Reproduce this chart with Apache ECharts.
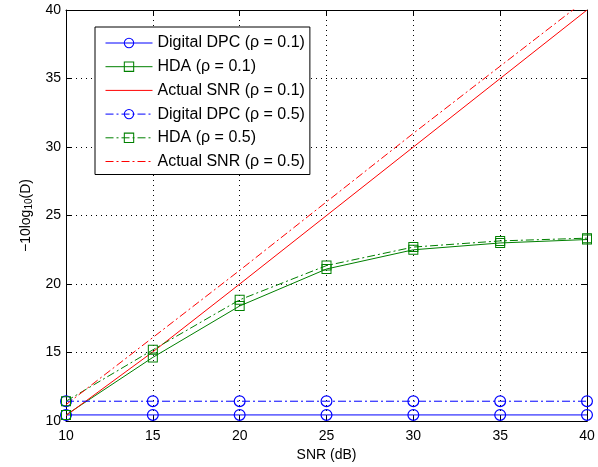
<!DOCTYPE html>
<html>
<head>
<meta charset="utf-8">
<script src="https://cdn.jsdelivr.net/npm/echarts@6/dist/echarts.min.js"></script>
<style>
html,body{margin:0;padding:0;background:#fff;}
#c{width:598px;height:467px;}
</style>
</head>
<body>
<div id="c"></div>
<script>
const snr = [10, 15, 20, 25, 30, 35, 40];
const dpc01 = [10.45, 10.45, 10.45, 10.45, 10.45, 10.45, 10.45];
const hda01 = [10.45, 14.65, 18.4, 21.1, 22.5, 23.0, 23.25];
const actual01 = [10.4, 15.05, 20.0, 25.0, 30.0, 35.0, 40.0];
const dpc05 = [11.45, 11.45, 11.45, 11.45, 11.45, 11.45, 11.45];
const hda05 = [11.45, 15.2, 18.85, 21.35, 22.7, 23.15, 23.35];
const actual05 = [11.2, 16.1, 21.0, 26.0, 31.0, 35.9, 40.8];
const names = ['Digital DPC (ρ = 0.1)', 'HDA (ρ = 0.1)', 'Actual SNR (ρ = 0.1)',
               'Digital DPC (ρ = 0.5)', 'HDA (ρ = 0.5)', 'Actual SNR (ρ = 0.5)'];
const xTicks = [10, 15, 20, 25, 30, 35, 40];
const yTicks = [10, 15, 20, 25, 30, 35, 40];

const BLUE = '#0000ff', GREEN = '#008000', RED = '#ff0000';
const FONT = 'Liberation Sans, Arial, sans-serif';
const RING = 'path://M10,0A10,10,0,1,1,10,20A10,10,0,1,1,10,0ZM10,2A8,8,0,1,0,10,18A8,8,0,1,0,10,2Z';
const SQRING = 'path://M0,0H20V20H0ZM2,2V18H18V2Z';

function pairs(ys){ return snr.map((x,i)=>[x, ys[i]]); }
function mk(name, ys, color, symbol, size, dashed, show){
  return {
    name, type:'line', data: pairs(ys),
    symbol, symbolSize: size, showSymbol: show,
    lineStyle:{color, width:1, type: dashed ? [8, 3, 2, 3] : 'solid'},
    itemStyle:{color, borderWidth:0},
    emphasis:{disabled:true}, animation:false, z: 3
  };
}
const legendColors = [BLUE, GREEN, RED, BLUE, GREEN, RED];
const legendData = names.map((n, i) => {
  const item = {name: n, lineStyle: {width: 1, color: legendColors[i], type: i >= 3 ? [8, 3, 2, 3] : 'solid'}};
  if (i === 2 || i === 5) item.itemStyle = {opacity: 0};
  return item;
});

const chart = echarts.init(document.getElementById('c'));
chart.setOption({
  backgroundColor:'#fff',
  animation:false,
  textStyle:{fontFamily: FONT},
  grid:{left:66, right:11, top:10, bottom:44},
  legend:{
    orient:'vertical', left:95, top:27,
    data: legendData,
    backgroundColor:'#fff', borderColor:'#000', borderWidth:1,
    padding:[8,5,5,10],
    itemWidth:47, itemHeight:13, itemGap:7.7,
    lineStyle:{width:1},
    textStyle:{fontFamily:FONT, fontSize:16, color:'#000'},
    selectedMode:false
  },
  xAxis:[{
    type:'value', min:10, max:40, interval:5,
    name:'SNR (dB)', nameLocation:'middle', nameGap:22,
    nameTextStyle:{fontFamily:FONT, fontSize:14, color:'#000'},
    axisLine:{show:true, lineStyle:{color:'#000', width:1}},
    axisTick:{show:true, inside:true, length:5, lineStyle:{color:'#000'}},
    axisLabel:{fontFamily:FONT, fontSize:14, color:'#000', margin:8,
      formatter:(v)=> xTicks.includes(v) ? String(v) : ''},
    splitLine:{show:true, lineStyle:{color:'#000', type:[1,4], width:1}}
  },{
    type:'value', min:10, max:40, interval:5, position:'top',
    axisLine:{show:true, lineStyle:{color:'#000', width:1}},
    axisTick:{show:true, inside:true, length:5, lineStyle:{color:'#000'}},
    axisLabel:{show:false}, splitLine:{show:false}
  }],
  yAxis:[{
    type:'value', min:10, max:40, interval:5,
    name:'−10log{s|10}(D)', nameLocation:'middle', nameGap:30, nameRotate:90,
    nameTextStyle:{fontFamily:FONT, fontSize:14, color:'#000',
      rich:{s:{fontFamily:FONT, fontSize:10, color:'#000', padding:[7,0,0,0]}}},
    axisLine:{show:true, lineStyle:{color:'#000', width:1}},
    axisTick:{show:true, inside:true, length:5, lineStyle:{color:'#000'}},
    axisLabel:{fontFamily:FONT, fontSize:14, color:'#000', margin:5,
      formatter:(v)=> yTicks.includes(v) ? String(v) : ''},
    splitLine:{show:true, lineStyle:{color:'#000', type:[1,4], width:1}}
  },{
    type:'value', min:10, max:40, interval:5, position:'right',
    axisLine:{show:true, lineStyle:{color:'#000', width:1}},
    axisTick:{show:true, inside:true, length:5, lineStyle:{color:'#000'}},
    axisLabel:{show:false}, splitLine:{show:false}
  }],
  series:[
    mk(names[0], dpc01, BLUE, RING, 12, false, true),
    mk(names[1], hda01, GREEN, SQRING, 10, false, true),
    mk(names[2], actual01, RED, 'circle', 1, false, false),
    mk(names[3], dpc05, BLUE, RING, 12, true, true),
    mk(names[4], hda05, GREEN, SQRING, 10, true, true),
    mk(names[5], actual05, RED, 'circle', 1, true, false)
  ]
});
</script>
</body>
</html>
